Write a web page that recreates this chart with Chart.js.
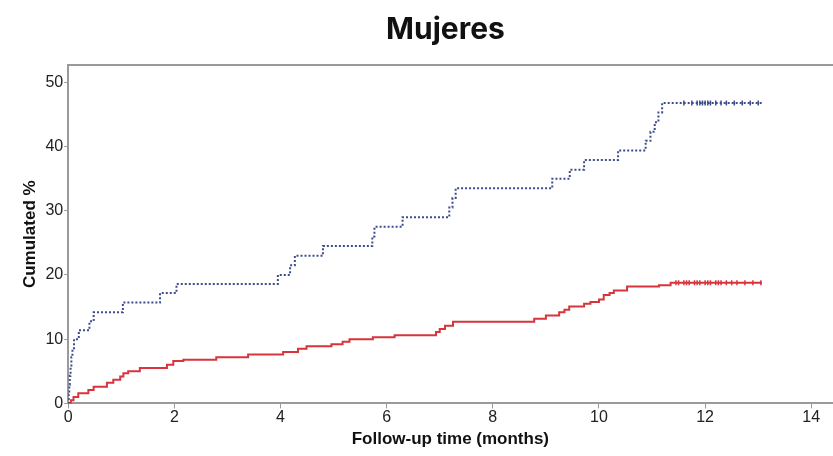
<!DOCTYPE html>
<html lang="es">
<head>
    <title>Mujeres</title>
    <script src="https://cdn.jsdelivr.net/npm/chart.js"></script>
    <style>
        body {
            margin: 0;
            background: #ffffff;
        }
        .wrap {
            position: relative;
            width: 833px;
            height: 456px;
            overflow: hidden;
        }
        .titulo {
            position: absolute;
            top: 10px;
            left: 58px;
            right: 0;
            text-align: center;
            font-family: 'Inter', sans-serif;
            font-weight: 700;
            font-size: 30px;
            color: #111;
        }
        #kmChart {
            position: absolute;
            left: 0;
            top: 0;
        }
    </style>
</head>
<body>
    <div class="wrap">
        <canvas id="kmChart" width="838" height="456"></canvas>
        <div class="titulo">Mujeres</div>
    </div>

    <script>
        // datos (meses, % acumulado)
        const blueTimes = [0, 0.01, 0.02, 0.03, 0.045, 0.06, 0.08, 0.11, 0.2, 0.4, 0.48, 1.03, 1.73, 2.04,
            3.95, 4.18, 4.27, 4.8, 5.73, 5.77, 6.3, 7.18, 7.24, 7.3, 9.12, 9.45, 9.72, 10.36,
            10.88, 10.97, 11.05, 11.12, 11.19, 13.08];
        const blueValues = [0, 1.4, 2.9, 4.3, 5.7, 7.2, 8.6, 10.0, 11.4, 12.8, 14.2, 15.7, 17.2, 18.6,
            20.0, 21.5, 23.0, 24.5, 26.0, 27.5, 29.0, 30.5, 32.0, 33.5, 35.0, 36.4, 37.9, 39.4,
            40.9, 42.3, 43.8, 45.3, 46.8, 46.8];
        const blueCensor = [11.6, 11.75, 11.85, 11.9, 11.95, 12.0, 12.05, 12.1, 12.2, 12.3, 12.4, 12.55, 12.7, 12.85, 13.0];

        const redTimes = [0, 0.05, 0.1, 0.19, 0.38, 0.48, 0.73, 0.85, 0.98, 1.04, 1.13, 1.35, 1.86, 1.98,
            2.17, 2.79, 3.39, 4.05, 4.33, 4.49, 4.96, 5.17, 5.3, 5.74, 6.15, 6.93, 7.0, 7.1, 7.25,
            8.78, 9.0, 9.25, 9.35, 9.44, 9.72, 9.84, 10.0, 10.09, 10.2, 10.28, 10.53, 11.13, 11.35, 13.07];
        const redValues = [0, 0.5, 1.0, 1.6, 2.1, 2.6, 3.2, 3.7, 4.2, 4.7, 5.0, 5.5, 6.0, 6.6,
            6.8, 7.2, 7.6, 8.0, 8.5, 8.9, 9.2, 9.6, 10.0, 10.3, 10.6, 11.1, 11.6, 12.1, 12.7,
            13.2, 13.7, 14.2, 14.6, 15.1, 15.5, 15.8, 16.2, 16.9, 17.2, 17.6, 18.2, 18.4, 18.8, 18.8];
        const redCensor = [11.45, 11.5, 11.6, 11.65, 11.7, 11.8, 11.85, 11.9, 12.0, 12.05, 12.1, 12.2,
            12.25, 12.3, 12.4, 12.5, 12.6, 12.75, 12.9, 13.05];

        const xTicks = [0, 2, 4, 6, 8, 10, 12, 14];
        const yTicks = [0, 10, 20, 30, 40, 50];

        const blueColor = '#3d4c8c';
        const redColor = '#d8343c';
        const axisColor = '#9a9a9a';

        const toPts = (xs, ys) => xs.map((x, i) => ({ x: x, y: ys[i] }));
        const censorPts = (xs, ys) => xs.map(x => ({ x: x, y: ys[ys.length - 1] }));

        const ctx = document.getElementById('kmChart').getContext('2d');
        const chart = new Chart(ctx, {
            type: 'line',
            data: {
                datasets: [
                    {
                        label: 'azul',
                        data: toPts(blueTimes, blueValues),
                        borderColor: blueColor,
                        borderWidth: 2,
                        borderDash: [2, 2],
                        stepped: true,
                        pointRadius: 0,
                        fill: false
                    },
                    {
                        label: 'rojo',
                        data: toPts(redTimes, redValues),
                        borderColor: redColor,
                        borderWidth: 2,
                        stepped: true,
                        pointRadius: 0,
                        fill: false
                    },
                    {
                        label: 'censura azul',
                        data: censorPts(blueCensor, blueValues),
                        showLine: false,
                        pointStyle: 'line',
                        rotation: 90,
                        pointRadius: 2.5,
                        borderColor: blueColor,
                        borderWidth: 1.5
                    },
                    {
                        label: 'censura roja',
                        data: censorPts(redCensor, redValues),
                        showLine: false,
                        pointStyle: 'line',
                        rotation: 90,
                        pointRadius: 2.5,
                        borderColor: redColor,
                        borderWidth: 1.5
                    }
                ]
            },
            options: {
                responsive: false,
                animation: false,
                layout: {
                    padding: { top: 65, right: 0, bottom: 6, left: 20 }
                },
                plugins: {
                    legend: { display: false },
                    tooltip: { enabled: false }
                },
                scales: {
                    x: {
                        type: 'linear',
                        min: 0,
                        max: 14.4,
                        afterBuildTicks: axis => { axis.ticks = xTicks.map(v => ({ value: v })); },
                        ticks: {
                            color: '#222',
                            font: { family: 'Liberation Sans', size: 16 },
                            padding: 0,
                            maxRotation: 0
                        },
                        grid: {
                            drawOnChartArea: false,
                            color: axisColor,
                            tickLength: 5
                        },
                        border: { color: axisColor, width: 2 },
                        title: {
                            display: true,
                            text: 'Follow-up time (months)',
                            color: '#111',
                            font: { family: 'Liberation Sans', size: 17, weight: 'bold' },
                            padding: { top: 2, bottom: 0 }
                        }
                    },
                    xTop: {
                        type: 'linear',
                        position: 'top',
                        min: 0,
                        max: 14.4,
                        ticks: { display: false },
                        grid: { drawOnChartArea: false, drawTicks: false },
                        border: { color: axisColor, width: 2 }
                    },
                    y: {
                        min: 0,
                        max: 52.7,
                        afterBuildTicks: axis => { axis.ticks = yTicks.map(v => ({ value: v })); },
                        ticks: {
                            color: '#222',
                            font: { family: 'Liberation Sans', size: 16 },
                            padding: 1
                        },
                        grid: {
                            drawOnChartArea: false,
                            color: axisColor,
                            tickLength: 4
                        },
                        border: { color: axisColor, width: 2 },
                        title: {
                            display: true,
                            text: 'Cumulated %',
                            color: '#111',
                            font: { family: 'Liberation Sans', size: 17, weight: 'bold' },
                            padding: { top: 0, bottom: 4 }
                        }
                    }
                }
            }
        });
    </script>
</body>
</html>
